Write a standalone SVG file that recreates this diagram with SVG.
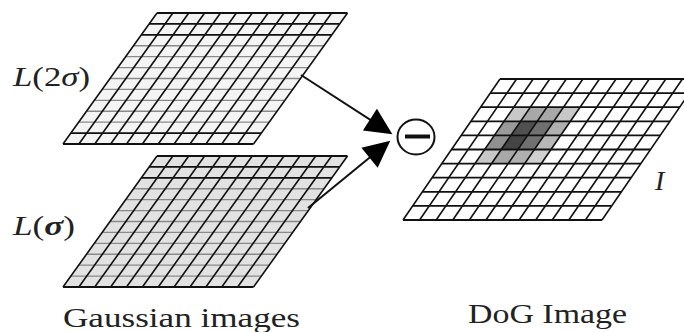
<svg xmlns="http://www.w3.org/2000/svg" width="684" height="332" viewBox="0 0 684 332">
<style>
  .lbl{font-family:"Liberation Serif","Times New Roman",serif;font-size:28px;fill:#222}
  .it{font-style:italic}
  .vline{fill:none;stroke:#111;stroke-width:1.6;vector-effect:non-scaling-stroke}
  .hdark{fill:none;stroke:#111;stroke-width:1.8;vector-effect:non-scaling-stroke}
  .hgray{fill:none;stroke:#8a8a8a;stroke-width:1.3;vector-effect:non-scaling-stroke}
  .conn{fill:none;stroke:#111;stroke-width:2}
</style>
<defs>
  <marker id="ah" markerUnits="userSpaceOnUse" markerWidth="34" markerHeight="30" viewBox="-22 -14 30 28" refX="0" refY="0" orient="auto">
    <path d="M6,0 L-19,-12 L-19,12 Z" fill="#000"/>
  </marker>
</defs>
<rect width="684" height="332" fill="#fff"/>

<g id="grid-L2sigma" transform="matrix(15.875 0 -7.833 10.917 157 13)">
  <rect x="0" y="0" width="12" height="12" fill="#f4f4f4"/>
  <path class="hgray" d="M0,3H12M0,4H12M0,5H12M0,6H12M0,7H12M0,8H12M0,9H12M0,10H12"/>
  <path class="vline" d="M0,0V12M1,0V12M2,0V12M3,0V12M4,0V12M5,0V12M6,0V12M7,0V12M8,0V12M9,0V12M10,0V12M11,0V12M12,0V12"/>
  <path class="hdark" d="M0,0H12M0,1H12M0,2H12M0,11H12M0,12H12"/>
</g>

<g id="grid-Lsigma" transform="matrix(15.875 0 -7.833 10.917 157 156)">
  <rect x="0" y="0" width="12" height="12" fill="#e2e2e2"/>
  <path class="hgray" d="M0,3H12M0,4H12M0,5H12M0,6H12M0,7H12M0,8H12M0,9H12M0,10H12M0,11H12"/>
  <path class="vline" d="M0,0V12M1,0V12M2,0V12M3,0V12M4,0V12M5,0V12M6,0V12M7,0V12M8,0V12M9,0V12M10,0V12M11,0V12M12,0V12"/>
  <path class="hdark" d="M0,0H12M0,1H12M0,2H12M0,12H12"/>
</g>

<g id="grid-DoG" transform="matrix(16.583 0 -9.7 14.1 500 79)">
  <rect x="0" y="0" width="12" height="10" fill="#fff"/>
  <rect x="2" y="2" width="1" height="1" fill="#c8c8c8"/>
  <rect x="3" y="2" width="1" height="1" fill="#a8a8a8"/>
  <rect x="4" y="2" width="1" height="1" fill="#a8a8a8"/>
  <rect x="5" y="2" width="1" height="1" fill="#c8c8c8"/>
  <rect x="2" y="3" width="1" height="1" fill="#9a9a9a"/>
  <rect x="3" y="3" width="1" height="1" fill="#505050"/>
  <rect x="4" y="3" width="1" height="1" fill="#707070"/>
  <rect x="5" y="3" width="1" height="1" fill="#b0b0b0"/>
  <rect x="2" y="4" width="1" height="1" fill="#909090"/>
  <rect x="3" y="4" width="1" height="1" fill="#454545"/>
  <rect x="4" y="4" width="1" height="1" fill="#707070"/>
  <rect x="5" y="4" width="1" height="1" fill="#b8b8b8"/>
  <rect x="2" y="5" width="1" height="1" fill="#c8c8c8"/>
  <rect x="3" y="5" width="1" height="1" fill="#a8a8a8"/>
  <rect x="4" y="5" width="1" height="1" fill="#b0b0b0"/>
  <rect x="5" y="5" width="1" height="1" fill="#d0d0d0"/>
  <path class="vline" d="M0,0V10M1,0V10M2,0V10M3,0V10M4,0V10M5,0V10M6,0V10M7,0V10M8,0V10M9,0V10M10,0V10M11,0V10M12,0V10"/>
  <path class="hdark" d="M0,0H12M0,1H12M0,2H12M0,3H12M0,4H12M0,5H12M0,6H12M0,7H12M0,8H12M0,9H12M0,10H12"/>
</g>

<g id="connectors">
  <line class="conn" x1="301" y1="75" x2="387" y2="130.7" marker-end="url(#ah)"/>
  <line class="conn" x1="308" y1="208" x2="385.3" y2="144.8" marker-end="url(#ah)"/>
</g>

<g id="minus">
  <ellipse cx="416" cy="137" rx="18.5" ry="17.5" fill="#fff" stroke="#111" stroke-width="2"/>
  <rect x="405" y="134.5" width="25" height="4" fill="#111"/>
</g>

<g id="labels">
  <text class="lbl" x="13" y="86" textLength="77" lengthAdjust="spacingAndGlyphs"><tspan class="it">L</tspan>(2<tspan class="it">σ</tspan>)</text>
  <text class="lbl" x="13" y="235" textLength="62" lengthAdjust="spacingAndGlyphs"><tspan class="it">L</tspan>(<tspan class="it" font-weight="bold">σ</tspan>)</text>
  <text class="lbl it" x="655" y="190">I</text>
  <text class="lbl" x="63" y="327" textLength="237" lengthAdjust="spacingAndGlyphs">Gaussian images</text>
  <text class="lbl" x="468" y="323" textLength="159" lengthAdjust="spacingAndGlyphs">DoG Image</text>
</g>
</svg>
